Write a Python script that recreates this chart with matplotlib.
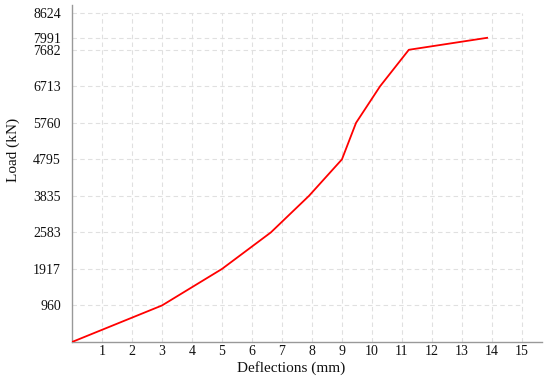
import numpy as np
import matplotlib
matplotlib.use("Agg")
import matplotlib.pyplot as plt

# Data
deflection = [0, 3.0, 5.0, 6.63, 7.9, 9.0, 9.47, 10.27, 11.23, 13.84]
load = [0, 960, 1917, 2583, 3835, 4795, 5760, 6713, 7682, 7991]
x_ticks = list(range(1, 16))
y_ticks = [960, 1917, 2583, 3835, 4795, 5760, 6713, 7682, 7991, 8624]
# evenly spaced scale breakpoints of the original axis
y_breaks = [0, 960, 1917, 2583, 3835, 4795, 5760, 6713, 7682, 8624]

plt.rcParams['font.family'] = ['Liberation Serif', 'DejaVu Serif']

bv = np.array([-9600.0] + y_breaks + [8624 + 9420.0])
bp = np.concatenate([[-10.0], np.arange(len(y_breaks), dtype=float), [len(y_breaks) - 1 + 10.0]])

def fwd(v):
    return np.interp(np.asarray(v, dtype=float), bv, bp)

def inv(p):
    return np.interp(np.asarray(p, dtype=float), bp, bv)

fig = plt.figure(figsize=(5.5, 3.81), dpi=100)
ax = fig.add_axes([72 / 550, (381 - 342) / 381, 470 / 550, (342 - 4.5) / 381])
ax.set_yscale('function', functions=(fwd, inv))

ax.set_xlim(0, 15.67)
ax.set_ylim(0, inv(9.24))

grid_kw = dict(color='#e0e0e0', lw=0.8, linestyles=(0, (4, 3)), zorder=0)
ax.hlines(y_ticks, 0, x_ticks[-1], **grid_kw)
ax.vlines(x_ticks, 0, y_ticks[-1], **grid_kw)

ax.plot(deflection, load, color='#ff0000', lw=1.3, zorder=3)

ax.set_xticks(x_ticks)
ax.set_xticklabels([str(t) for t in x_ticks])
ax.set_yticks(y_ticks)
ax.set_yticklabels([str(t) for t in y_ticks])
ax.minorticks_off()
ax.tick_params(axis='both', length=0, labelsize=10, colors='#111111')
ax.tick_params(axis='y', pad=8)
ax.tick_params(axis='x', pad=2.2)

for s in ['top', 'right']:
    ax.spines[s].set_visible(False)
for s in ['left', 'bottom']:
    ax.spines[s].set_color('#999999')
    ax.spines[s].set_linewidth(1.0)

ax.set_xlabel('Deflections (mm)', fontsize=11, color='#111111')
ax.set_ylabel('Load (kN)', fontsize=11, color='#111111')
ax.xaxis.set_label_coords((291 - 72) / 470, (342 - 361) / 337.5)
ax.yaxis.set_label_coords((20 - 72) / 470, (342 - 150) / 337.5)

fig.savefig('out.png', dpi=100)
